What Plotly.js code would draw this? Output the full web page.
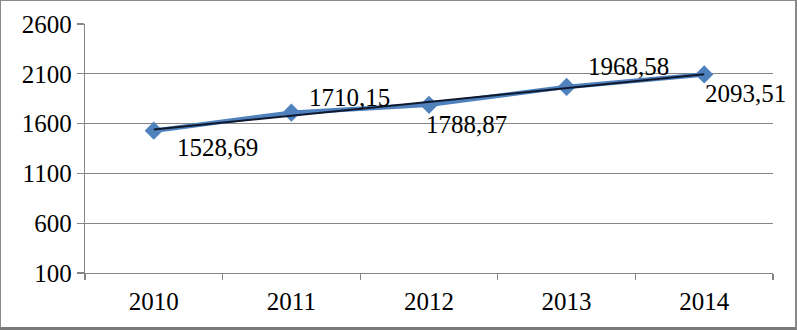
<!DOCTYPE html>
<html>
<head>
<meta charset="utf-8">
<script src="https://cdn.plot.ly/plotly-3.0.1.min.js"></script>
<style>
html,body{margin:0;padding:0;background:#fff;}
#wrap{position:relative;width:797px;height:330px;}
#chart{position:absolute;left:0;top:0;width:797px;height:330px;}
#frame{position:absolute;left:0;top:0;width:797px;height:330px;box-sizing:border-box;
  border-left:1px solid #8a8a8a;border-top:1px solid #8a8a8a;border-right:2px solid #8a8a8a;border-bottom:3px solid #7a7a7a;pointer-events:none;}
</style>
</head>
<body>
<div id="wrap"><div id="chart"></div><div id="frame"></div></div>
<script>
const years = ['2010','2011','2012','2013','2014'];
const values = [1528.69, 1710.15, 1788.87, 1968.58, 2093.51];
const labels = ['1528,69','1710,15','1788,87','1968,58','2093,51'];
const labelShiftX = [21, 16, -5, 19, -1];
const labelShiftY = [-17, 15, -20, 20, -19];

// linear trendline (least squares) computed from the data
const n = values.length;
const xs = values.map((_, i) => i);
const mx = xs.reduce((a, b) => a + b, 0) / n;
const my = values.reduce((a, b) => a + b, 0) / n;
let sxy = 0, sxx = 0;
for (let i = 0; i < n; i++) { sxy += (xs[i] - mx) * (values[i] - my); sxx += (xs[i] - mx) ** 2; }
const slope = sxy / sxx, icpt = my - slope * mx;
const trend = xs.map(x => icpt + slope * x);

const font = {family: '"Liberation Serif", "Times New Roman", serif', size: 25, color: '#000'};

const data = [
  {x: years, y: values, type: 'scatter', mode: 'lines+markers',
   line: {color: '#4F81BD', width: 4.5},
   marker: {symbol: 'diamond', size: 14, color: '#4F81BD'},
   hoverinfo: 'skip'},
  {x: years, y: trend, type: 'scatter', mode: 'lines',
   line: {color: '#10182e', width: 2}, hoverinfo: 'skip'}
];

const annotations = years.map((yr, i) => ({
  x: i, y: values[i], xref: 'x', yref: 'y', text: labels[i], showarrow: false,
  xanchor: 'left', yanchor: 'middle', xshift: labelShiftX[i], yshift: labelShiftY[i],
  font: font
}));

const layout = {
  width: 797, height: 330,
  margin: {l: 85, r: 24, t: 24, b: 57, pad: 0},
  paper_bgcolor: '#fff', plot_bgcolor: '#fff',
  showlegend: false,
  font: font,
  xaxis: {type: 'category', range: [-0.5, 4.5], tickson: 'boundaries',
    ticks: 'outside', ticklen: 6, tickcolor: '#868686', tickwidth: 1.3,
    showline: true, linecolor: '#868686', linewidth: 1.3,
    showgrid: false, zeroline: false, tickfont: font, ticklabelstandoff: 6},
  yaxis: {range: [100, 2600], tickvals: [100, 600, 1100, 1600, 2100, 2600],
    ticks: 'outside', ticklen: 7, tickcolor: '#868686', tickwidth: 1.3,
    showline: true, linecolor: '#868686', linewidth: 1.3,
    showgrid: true, gridcolor: '#868686', gridwidth: 1.3, zeroline: false,
    tickfont: font, ticklabelstandoff: 0},
  annotations: annotations
};

Plotly.newPlot('chart', data, layout, {staticPlot: true, displayModeBar: false});
</script>
</body>
</html>
